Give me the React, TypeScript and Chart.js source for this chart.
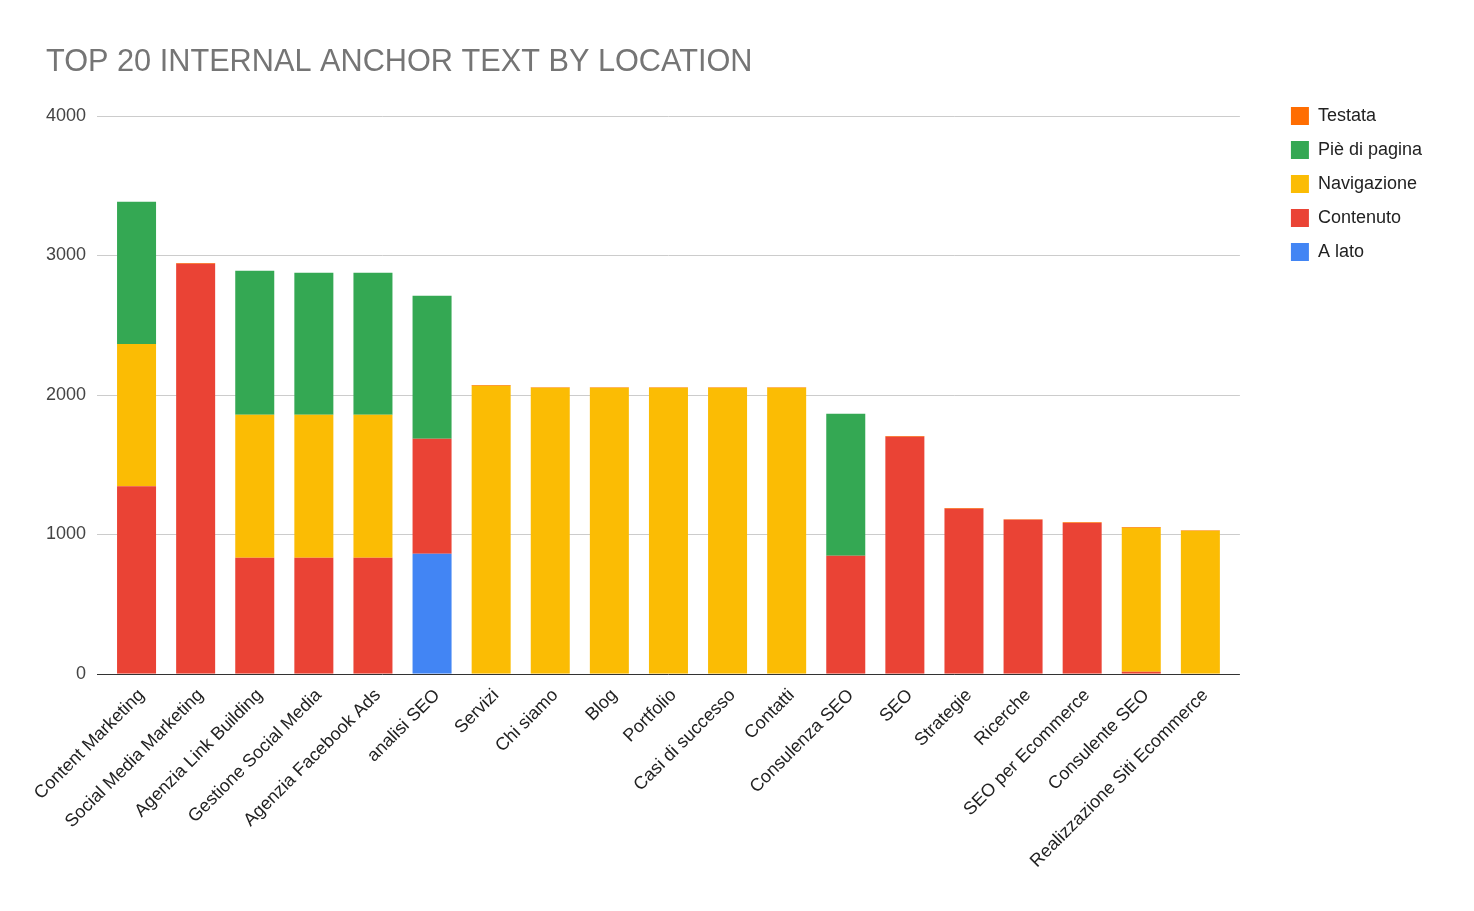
import React, { useEffect, useRef } from "react";
import { Chart, registerables } from "chart.js";

Chart.register(...registerables);

const categories = [
  "Content Marketing",
  "Social Media Marketing",
  "Agenzia Link Building",
  "Gestione Social Media",
  "Agenzia Facebook Ads",
  "analisi SEO",
  "Servizi",
  "Chi siamo",
  "Blog",
  "Portfolio",
  "Casi di successo",
  "Contatti",
  "Consulenza SEO",
  "SEO",
  "Strategie",
  "Ricerche",
  "SEO per Ecommerce",
  "Consulente SEO",
  "Realizzazione Siti Ecommerce",
];

const aLato = [0, 0, 0, 0, 0, 860, 0, 0, 0, 0, 0, 0, 0, 0, 0, 0, 0, 0, 0];
const contenuto = [1345, 2940, 832, 832, 832, 825, 0, 0, 0, 0, 0, 0, 846, 1700, 1183, 1104, 1082, 15, 0];
const navigazione = [1020, 0, 1025, 1025, 1025, 0, 2065, 2050, 2050, 2050, 2050, 2050, 0, 0, 0, 0, 0, 1032, 1025];
const pieDiPagina = [1020, 0, 1032, 1018, 1018, 1025, 0, 0, 0, 0, 0, 0, 1018, 0, 0, 0, 0, 0, 0];
const testata = [0, 5, 0, 0, 0, 0, 5, 5, 5, 5, 5, 5, 0, 5, 5, 5, 5, 5, 5];

const yTicks = [0, 1000, 2000, 3000, 4000];

const gridPlugin = {
  id: "extendedGrid",
  beforeDatasetsDraw(chart: any) {
    const { ctx, chartArea, scales } = chart;
    const y = scales.y;
    ctx.save();
    for (const v of yTicks) {
      const py = Math.round(y.getPixelForValue(v)) + 0.5;
      ctx.strokeStyle = v === 0 ? "#333" : "#ccc";
      ctx.lineWidth = 1;
      ctx.beginPath();
      ctx.moveTo(chartArea.left - 10, py);
      ctx.lineTo(chartArea.right + 10, py);
      ctx.stroke();
    }
    ctx.restore();
  },
};

export default function App() {
  const ref = useRef<HTMLCanvasElement | null>(null);

  useEffect(() => {
    document.body.style.margin = "0";
    const canvas = ref.current;
    if (!canvas) return;
    const font = "'Liberation Sans', Arial, sans-serif";
    const chart = new Chart(canvas, {
      type: "bar",
      data: {
        labels: categories,
        datasets: [
          { label: "A lato", data: aLato, backgroundColor: "#4285f4" },
          { label: "Contenuto", data: contenuto, backgroundColor: "#ea4335" },
          { label: "Navigazione", data: navigazione, backgroundColor: "#fbbc04" },
          { label: "Piè di pagina", data: pieDiPagina, backgroundColor: "#34a853" },
          { label: "Testata", data: testata, backgroundColor: "#ff6d01" },
        ],
      },
      plugins: [gridPlugin],
      options: {
        responsive: false,
        animation: false,
        layout: { padding: { left: 46, top: 30, right: 42, bottom: 36 } },
        datasets: {
          bar: { barPercentage: 0.66, categoryPercentage: 1, borderWidth: 0 },
        },
        plugins: {
          title: {
            display: true,
            text: "TOP 20 INTERNAL ANCHOR TEXT BY LOCATION",
            align: "start",
            color: "#757575",
            font: { family: font, size: 30.7, weight: "normal" },
            padding: { top: 14, bottom: 35 },
          },
          legend: {
            position: "right",
            align: "start",
            reverse: true,
            title: {
              display: true,
              text: "",
              font: { family: font, size: 10 },
              padding: { top: 49, bottom: 0 },
            },
            labels: {
              boxWidth: 18,
              boxHeight: 18,
              padding: 16,
              color: "#222",
              font: { family: font, size: 18 },
            },
          },
          tooltip: { enabled: false },
        },
        scales: {
          x: {
            stacked: true,
            grid: { display: false },
            border: { display: false },
            ticks: {
              color: "#222",
              font: { family: font, size: 18 },
              maxRotation: 45,
              minRotation: 45,
              autoSkip: false,
              labelOffset: 5,
            },
            afterFit: (s: any) => {
              s.paddingLeft = 0;
              s.paddingRight = 0;
            },
          },
          y: {
            stacked: true,
            min: 0,
            max: 4000,
            afterBuildTicks: (axis: any) => {
              axis.ticks = yTicks.map((v) => ({ value: v }));
            },
            border: { display: false },
            grid: { display: false, drawTicks: false },
            ticks: {
              color: "#444",
              padding: 21,
              font: { family: font, size: 18 },
              callback: (v: any) => String(v),
            },
            afterFit: (s: any) => {
              s.width = 61;
            },
          },
          y2: {
            position: "right",
            display: true,
            grid: { display: false },
            border: { display: false },
            ticks: { display: false },
            afterFit: (s: any) => {
              s.width = 45;
            },
          },
        },
      },
    });
    return () => chart.destroy();
  }, []);

  return (
    <div style={{ width: 1474, height: 911 }}>
      <canvas ref={ref} width={1474} height={911} />
    </div>
  );
}
